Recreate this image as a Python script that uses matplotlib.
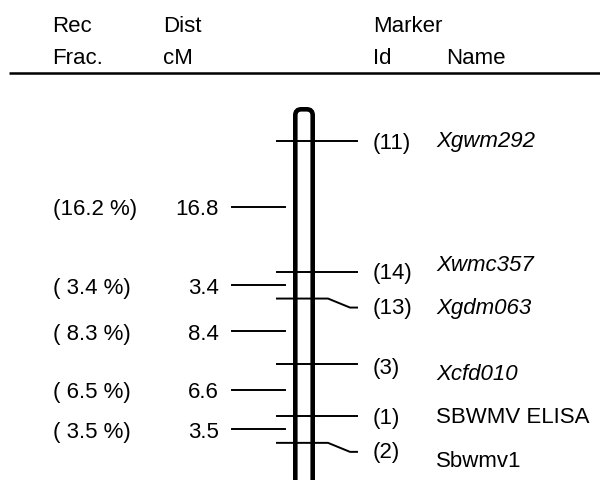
import matplotlib
matplotlib.use("Agg")
import matplotlib.pyplot as plt
from matplotlib.patches import FancyBboxPatch
import numpy as np

plt.rcParams['font.family'] = ['Liberation Sans', 'DejaVu Sans']

# Data
marker_ids = ["(11)", "(14)", "(13)", "(3)", "(1)", "(2)"]
marker_names = ["Xgwm292", "Xwmc357", "Xgdm063", "Xcfd010", "SBWMV ELISA", "Sbwmv1"]
marker_italic = [True, True, True, True, False, False]
dist_cm = [16.8, 3.4, 8.4, 6.6, 3.5]
rec_frac = ["(16.2 %)", "( 3.4 %)", "( 8.3 %)", "( 6.5 %)", "( 3.5 %)"]

positions = np.concatenate([[0.0], np.cumsum(dist_cm)])

PX_PER_CM = 7.8
TOP_PX = 142.0
H = 481

fig = plt.figure(figsize=(6.0, 4.81), dpi=100)
ax = fig.add_axaxes = fig.add_axes([0, 0, 1, 1])
ax.set_xlim(0, 600)
ax.set_ylim((H - TOP_PX) / PX_PER_CM, -TOP_PX / PX_PER_CM)
ax.axis('off')

def px(n):
    return n / PX_PER_CM

fs = 16

# Header
def head(x, y, s):
    fig.text(x / 600, 1 - y / H, s, fontsize=fs, va='center', ha='left')

head(52, 26, "Rec")
head(52, 59, "Frac.")
head(163, 26, "Dist")
head(163, 59, "cM")
head(373, 26, "Marker")
head(373, 59, "Id")
head(446, 59, "Name")
ax.plot([9, 600], [px(74 - TOP_PX)] * 2, color='black', lw=1.8, solid_capstyle='butt')

# Chromosome
top = px(110.3 - TOP_PX)
bottom = positions[-1] + 10
chrom = FancyBboxPatch((295.3, top), 17.4, bottom - top,
                       boxstyle="round,pad=0,rounding_size=6",
                       mutation_aspect=1 / PX_PER_CM,
                       facecolor='white', edgecolor='black', lw=3.3, zorder=2)
ax.add_patch(chrom)

# Marker ticks and labels
id_offsets = [1, 0, 9, 3, 2, 9]
name_offsets = [0, -8, 9, 9, 1, 18]
kinked = [False, False, True, False, False, True]
for i, pos in enumerate(positions):
    if kinked[i]:
        ax.plot([277, 328, 350, 357], [pos, pos, pos + px(9), pos + px(9)],
                color='black', lw=1.4, zorder=3)
    else:
        ax.plot([277, 357], [pos, pos], color='black', lw=1.4, zorder=3)
    ax.text(373, pos + px(id_offsets[i]), marker_ids[i], fontsize=fs,
            va='center', ha='left')
    ax.text(436, pos + px(name_offsets[i]), marker_names[i], fontsize=fs,
            va='center', ha='left', style='italic' if marker_italic[i] else 'normal')

# Interval lines and labels
for i, d in enumerate(dist_cm):
    mid = (positions[i] + positions[i + 1]) / 2
    ax.plot([232, 285], [mid, mid], color='black', lw=1.4, zorder=1)
    ax.text(53, mid + px(2), rec_frac[i], fontsize=fs, va='center', ha='left')
    ax.text(219, mid + px(2), f"{d:.1f}", fontsize=fs, va='center', ha='right')

fig.savefig("out.png", dpi=100)
